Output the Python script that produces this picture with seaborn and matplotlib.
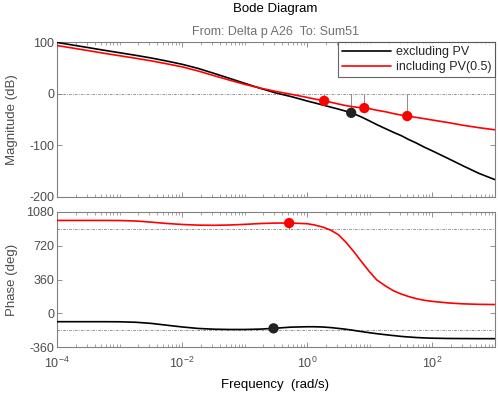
import matplotlib
matplotlib.use("Agg")
import pandas as pd
import matplotlib.pyplot as plt
import seaborn as sns

# valori (frequenza in rad/s)
freq = [1e-4, 1.8e-4, 3.2e-4, 5.6e-4, 1e-3, 1.8e-3, 3.2e-3, 5.6e-3, 1e-2, 1.8e-2, 3.2e-2, 5.6e-2,
        0.1, 0.18, 0.32, 0.56, 1, 1.3, 1.8, 2.4, 3.2, 4.2, 5.6, 7.5, 10, 13, 18, 24, 32, 42, 56, 75,
        100, 180, 320, 560, 1000]

mag_excl = [100, 94.9, 89.9, 84.9, 80, 75, 69.8, 64, 57.5, 49.5, 40, 30.5,
            20.5, 10.5, 1.5, -5.5, -14, -17.5, -22, -26, -30, -34, -39, -45.5, -53, -60, -68, -75, -81.5, -89, -96, -104,
            -111, -126, -141, -155, -167]
mag_incl = [94, 89, 84, 79, 74.2, 69.3, 64.2, 58.6, 52.5, 44.5, 35.5, 27,
            18.5, 11, 4.5, -1, -7, -10, -13.2, -16.5, -20, -23, -25.5, -27.3, -29, -32, -35, -38.5, -41.5, -44, -46, -48.5,
            -51, -56, -61.5, -66, -70]

phase_excl = [-90, -90, -90, -90, -91, -96, -108, -127, -146, -162, -170, -173,
              -173, -169, -159, -148, -144, -144, -147, -153, -162, -171, -183, -196, -208, -218, -229, -238, -247, -253, -259, -263,
              -266, -269, -270, -271, -271]
phase_incl = [990, 990, 990, 990, 989, 984, 972, 958, 947, 940, 938, 941,
              948, 957, 962, 962, 955, 942, 918, 885, 835, 755, 655, 545, 440, 355, 290, 240, 205, 178, 155, 138,
              127, 110, 100, 95, 93]

# margini (marker)
gm_excl_f = [5.06]
gm_excl = [-37]
gm_incl_f = [1.87, 8.2, 39.8]
gm_incl = [-13.7, -27.8, -43.3]
pm_excl_f = [0.29]
pm_excl = [-161]
pm_incl_f = [0.515]
pm_incl = [962]

labels = ["excluding PV", "including PV(0.5)"]
colori = {"excluding PV": "black", "including PV(0.5)": "red"}

mag_ticks = [-200, -100, 0, 100]
phase_ticks = [-360, 0, 360, 720, 1080]
x_ticks = [1e-4, 1e-2, 1, 1e2]
x_ticklabels = ["$10^{-4}$", "$10^{-2}$", "$10^{0}$", "$10^{2}$"]

df = pd.concat([
    pd.DataFrame({"freq": freq, "mag": mag_excl, "phase": phase_excl, "caso": labels[0]}),
    pd.DataFrame({"freq": freq, "mag": mag_incl, "phase": phase_incl, "caso": labels[1]}),
], ignore_index=True)

sns.set_style("ticks")
plt.rcParams["font.family"] = ["Liberation Sans", "DejaVu Sans"]
plt.rcParams["mathtext.fontset"] = "custom"
plt.rcParams["mathtext.rm"] = "Liberation Sans"
plt.rcParams["mathtext.default"] = "regular"
plt.rcParams["axes.unicode_minus"] = False

grigio = "#4d4d4d"
fig = plt.figure(figsize=(4.98, 3.95), dpi=100)
ax1 = fig.add_axes([0.1145, 0.5025, 0.879, 0.39])
ax2 = fig.add_axes([0.1145, 0.1215, 0.879, 0.3418])

refstyle = dict(color="#808080", lw=0.6, ls=(0, (3, 1.5, 1, 1.5)), zorder=1)
ax1.axhline(0, **refstyle)
ax2.axhline(900, **refstyle)
ax2.axhline(-180, **refstyle)

# linee verticali dei margini
for f, m in zip(gm_excl_f + gm_incl_f, gm_excl + gm_incl):
    ax1.plot([f, f], [0, m], color="#8c8c8c", lw=0.7, zorder=1)
for f, p in zip(pm_excl_f, pm_excl):
    ax2.plot([f, f], [-180, p], color="#8c8c8c", lw=0.7, zorder=1)
for f, p in zip(pm_incl_f, pm_incl):
    ax2.plot([f, f], [900, p], color="#8c8c8c", lw=0.7, zorder=1)

sns.lineplot(data=df, x="freq", y="mag", hue="caso", hue_order=labels, palette=colori,
             linewidth=1.2, ax=ax1, zorder=3)
sns.lineplot(data=df, x="freq", y="phase", hue="caso", hue_order=labels, palette=colori,
             linewidth=1.2, ax=ax2, legend=False, zorder=3)

sns.scatterplot(x=gm_excl_f, y=gm_excl, color="#222222", s=55, edgecolor="none", ax=ax1, zorder=4)
sns.scatterplot(x=gm_incl_f, y=gm_incl, color="red", s=55, edgecolor="none", ax=ax1, zorder=4)
sns.scatterplot(x=pm_excl_f, y=pm_excl, color="#222222", s=55, edgecolor="none", ax=ax2, zorder=4)
sns.scatterplot(x=pm_incl_f, y=pm_incl, color="red", s=55, edgecolor="none", ax=ax2, zorder=4)

for ax in (ax1, ax2):
    ax.set_xscale("log")
    ax.set_xlim(1e-4, 1e3)
    ax.set_xticks(x_ticks)
    ax.xaxis.set_minor_locator(matplotlib.ticker.LogLocator(base=10, subs=range(1, 10), numticks=20))
    ax.xaxis.set_minor_formatter(matplotlib.ticker.NullFormatter())
    ax.tick_params(which="both", direction="in", top=True, right=True, colors="#808080",
                   labelcolor=grigio, labelsize=9)
    ax.tick_params(which="major", length=3.5, width=0.6)
    ax.tick_params(which="minor", length=2, width=0.5)
    ax.tick_params(axis="y", pad=2)
    for s in ax.spines.values():
        s.set_color("#808080")
        s.set_linewidth(0.8)
    ax.set_xlabel("")
    ax.set_ylabel("")

ax1.set_ylim(-200, 100)
ax1.set_yticks(mag_ticks)
ax1.set_xticklabels([])
ax2.set_ylim(-360, 1080)
ax2.set_yticks(phase_ticks)
ax2.set_xticklabels(x_ticklabels)
ax2.tick_params(axis="x", pad=6)

handles, _ = ax1.get_legend_handles_labels()
leg = ax1.legend(handles[:2], labels, loc="upper right", borderaxespad=0, fontsize=9,
                 handlelength=3.9, frameon=True, fancybox=False, edgecolor="#404040",
                 borderpad=0.3, labelspacing=0.25, handletextpad=0.4)
leg.get_frame().set_linewidth(0.8)

fig.text(0.553, 1 - 9 / 395, "Bode Diagram", ha="center", va="center", fontsize=9.5, color="black")
fig.text(0.553, 1 - 32 / 395, "From: Delta p A26  To: Sum51", ha="center", va="center",
         fontsize=9, color="#707070")
fig.text(12 / 498, 1 - 120 / 395, "Magnitude (dB)", rotation=90, ha="center", va="center",
         fontsize=9.5, color=grigio)
fig.text(12 / 498, 1 - 280 / 395, "Phase (deg)", rotation=90, ha="center", va="center",
         fontsize=9.5, color=grigio)
fig.text(0.553, 1 - 385 / 395, "Frequency  (rad/s)", ha="center", va="center",
         fontsize=9.5, color="black")

fig.savefig("out.png", dpi=100)
